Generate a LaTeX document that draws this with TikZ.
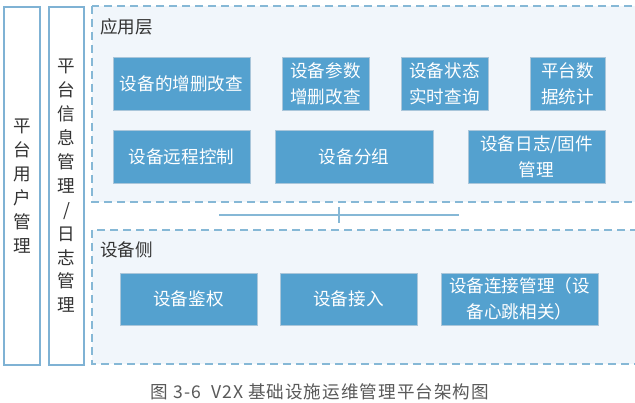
\documentclass[tikz,border=0pt]{standalone}
\usepackage{fontspec}
\setmainfont{Noto Sans CJK SC}
\definecolor{boxblue}{RGB}{84,161,207}
\definecolor{boxedge}{RGB}{170,198,218}
\definecolor{dashblue}{RGB}{134,184,214}
\definecolor{sideline}{RGB}{127,178,212}
\definecolor{layerfill}{RGB}{241,246,251}
\definecolor{labeltext}{RGB}{51,51,51}
\definecolor{captiongray}{RGB}{89,89,89}
\tikzset{
  fnbox/.style={rectangle, fill=boxblue, draw=boxedge, line width=0.4pt, text=white,
    align=center, inner sep=0pt, font=\fontsize{10}{15}\selectfont},
  sidebox/.style={rectangle, draw=sideline, line width=0.8pt, fill=white, text=labeltext,
    align=center, inner sep=0pt, minimum height=7.16cm, font=\fontsize{10}{13.6}\selectfont},
  layer/.style={draw=dashblue, line width=0.8pt, dash pattern=on 0.16cm off 0.1cm, fill=layerfill},
  layername/.style={anchor=west, inner sep=0pt, text=labeltext, font=\fontsize{10}{12}\selectfont},
  linkline/.style={draw=dashblue, line width=0.8pt}
}
\begin{document}
\begin{tikzpicture}
\clip (0,0) rectangle (12.7,-8.06);
\fill[white] (0,0) rectangle (12.7,-8.06);

% left columns
\node[sidebox, minimum width=0.72cm] (user) at (0.44,-3.72) {平\\台\\用\\户\\管\\理};
\node[sidebox, minimum width=0.70cm] (info) at (1.33,-3.72) {平\\台\\信\\息\\管\\理\\/\\日\\志\\管\\理};

% layers
\draw[layer] (1.84,-0.12) rectangle (13.2,-4.04);
\draw[layer] (1.84,-4.60) rectangle (13.2,-7.28);
\node[layername] (appname) at (2.00,-0.54) {应用层};
\node[layername] (devname) at (2.00,-5.00) {设备侧};

% application layer
\node[fnbox, minimum width=2.74cm, minimum height=1.06cm] (a1) at (3.63,-1.67) {设备的增删改查};
\node[fnbox, minimum width=1.74cm, minimum height=1.06cm] (a2) at (6.51,-1.67) {设备参数\\增删改查};
\node[fnbox, minimum width=1.74cm, minimum height=1.06cm] (a3) at (8.89,-1.67) {设备状态\\实时查询};
\node[fnbox, minimum width=1.50cm, minimum height=1.06cm] (a4) at (11.35,-1.67) {平台数\\据统计};
\node[fnbox, minimum width=2.74cm, minimum height=1.06cm] (a5) at (3.63,-3.13) {设备远程控制};
\node[fnbox, minimum width=3.16cm, minimum height=1.06cm] (a6) at (7.08,-3.13) {设备分组};
\node[fnbox, minimum width=2.74cm, minimum height=1.06cm] (a7) at (10.73,-3.13) {设备日志/固件\\管理};

% link between layers
\coordinate (cl) at (4.38,-4.30);
\coordinate (cr) at (9.18,-4.30);
\coordinate (ct) at (6.78,-4.14);
\coordinate (cb) at (6.78,-4.46);
\draw[linkline] (cl) -- (cr);
\draw[linkline] (ct) -- (cb);

% device side
\node[fnbox, minimum width=2.74cm, minimum height=1.04cm] (d1) at (3.77,-5.98) {设备鉴权};
\node[fnbox, minimum width=2.74cm, minimum height=1.04cm] (d2) at (6.97,-5.98) {设备接入};
\node[fnbox, minimum width=3.14cm, minimum height=1.04cm] (d3) at (10.39,-5.98) {设备连接管理（设\\备心跳相关）};

\node[text=captiongray, font=\fontsize{10}{12}\selectfont\addfontfeature{LetterSpace=6}] (cap) at (6.4,-7.84) {图 3-6\ \ V2X 基础设施运维管理平台架构图};
\end{tikzpicture}
\end{document}
